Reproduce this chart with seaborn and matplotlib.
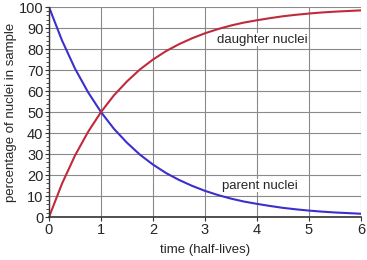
import numpy as np
import pandas as pd
import matplotlib
matplotlib.use("Agg")
import matplotlib.pyplot as plt
import seaborn as sns
from matplotlib.ticker import MultipleLocator

# valores (cada 0.25 vidas medias)
tiempo = [0, 0.25, 0.5, 0.75, 1, 1.25, 1.5, 1.75, 2, 2.25, 2.5, 2.75, 3,
          3.25, 3.5, 3.75, 4, 4.25, 4.5, 4.75, 5, 5.25, 5.5, 5.75, 6]
padre = [100, 84.1, 70.7, 59.5, 50, 42.0, 35.4, 29.7, 25, 21.0, 17.7, 14.9, 12.5,
         10.5, 8.8, 7.4, 6.3, 5.3, 4.4, 3.7, 3.1, 2.6, 2.2, 1.9, 1.6]
hija = [0, 15.9, 29.3, 40.5, 50, 58.0, 64.6, 70.3, 75, 79.0, 82.3, 85.1, 87.5,
        89.5, 91.2, 92.6, 93.7, 94.7, 95.6, 96.3, 96.9, 97.4, 97.8, 98.1, 98.4]

df = pd.DataFrame({"t": tiempo, "padre": padre, "hija": hija})

sns.set_style("white")
plt.rcParams['font.family'] = ['Liberation Sans', 'DejaVu Sans']

fig = plt.figure(figsize=(3.67, 2.60), dpi=100)
ax = fig.add_axes([0.1335, 0.165, 0.85, 0.808])

sns.lineplot(data=df, x="t", y="padre", color="#3b30cc", linewidth=1.5, ax=ax)
sns.lineplot(data=df, x="t", y="hija", color="#c02a3c", linewidth=1.5, ax=ax)

ax.set_xlim(0, 6)
ax.set_ylim(0, 100)
ax.xaxis.set_major_locator(MultipleLocator(1))
ax.yaxis.set_major_locator(MultipleLocator(10))
ax.yaxis.set_minor_locator(MultipleLocator(2))
ax.grid(True, which="major", color="#8a8a8a", linewidth=0.8)
ax.set_axisbelow(True)
for s in ["top", "right"]:
    ax.spines[s].set_visible(False)
ax.spines["left"].set_color("#333333")
ax.spines["bottom"].set_color("#333333")
ax.spines["left"].set_linewidth(1.0)
ax.spines["bottom"].set_linewidth(1.2)
ax.tick_params(axis="both", which="major", direction="out", length=3, width=0.8,
               color="#333333", labelsize=10.5, pad=1)
ax.tick_params(axis="y", which="minor", direction="out", length=2, width=0.6,
               color="#333333", left=True)
ax.tick_params(axis="x", which="major", bottom=True)
ax.tick_params(axis="y", which="major", left=True)

ax.set_xlabel("time (half-lives)", fontsize=9.5, labelpad=5)
ax.set_ylabel("percentage of nuclei in sample", fontsize=9.5, labelpad=1)

ax.text(4.1, 84.5, "daughter nuclei", fontsize=9.5, ha="center", va="center",
        bbox=dict(facecolor="white", edgecolor="none", pad=0.5))
ax.text(4.05, 15, "parent nuclei", fontsize=9.5, ha="center", va="center",
        bbox=dict(facecolor="white", edgecolor="none", pad=0.5))

plt.savefig("out.png", dpi=100)
